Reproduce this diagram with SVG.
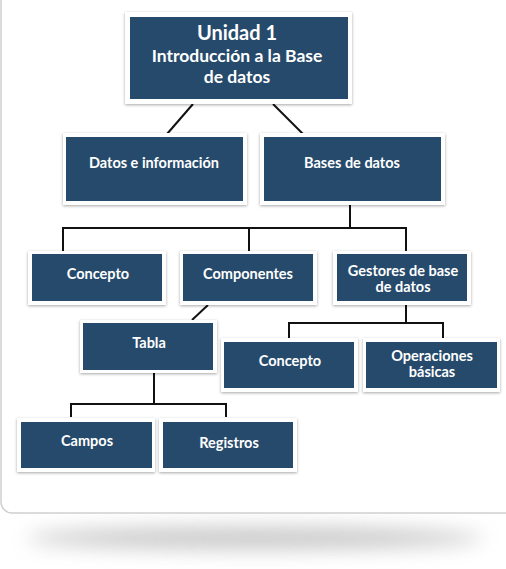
<svg xmlns="http://www.w3.org/2000/svg" width="506" height="569" viewBox="0 0 506 569">
<defs>
<filter id="sh" x="-10%" y="-20%" width="120%" height="140%">
<feGaussianBlur in="SourceAlpha" stdDeviation="1.5"/>
<feOffset dx="0" dy="1" result="b"/>
<feFlood flood-color="#000" flood-opacity="0.35"/>
<feComposite in2="b" operator="in"/>
<feMerge><feMergeNode/><feMergeNode in="SourceGraphic"/></feMerge>
</filter>
<filter id="bl" x="-20%" y="-200%" width="140%" height="500%">
<feGaussianBlur stdDeviation="10"/>
</filter>
<style>
.fr{fill:#fff;filter:url(#sh)}
.bx{fill:#264a6b}
.t{fill:#fff;font-family:Lato,"Open Sans",sans-serif;font-weight:bold;font-size:14.5px;text-anchor:middle}
.c{fill:none;stroke:#111;stroke-width:2}
</style>
</defs>
<ellipse cx="255" cy="538" rx="228" ry="11" fill="#9a9a9a" opacity="0.55" filter="url(#bl)"/>
<rect x="1" y="-20" width="515" height="533" rx="11" fill="#fff" stroke="#cfcfcf" stroke-width="1.5"/>
<g id="connectors">
<line class="c" x1="193" y1="104" x2="167" y2="134"/>
<line class="c" x1="273" y1="104" x2="303" y2="134"/>
<polyline class="c" points="350,205 350,228"/>
<polyline class="c" points="63,251 63,228 406,228 406,251"/>
<line class="c" x1="249" y1="228" x2="249" y2="251"/>
<line class="c" x1="208" y1="305" x2="192" y2="320"/>
<polyline class="c" points="406,305 406,323"/>
<polyline class="c" points="289,341 289,323 443,323 443,341"/>
<polyline class="c" points="154,373 154,404"/>
<polyline class="c" points="71,417 71,404 226,404 226,417"/>
</g>
<g id="n-unidad">
<rect class="fr" x="125" y="12" width="227" height="92"/>
<rect class="bx" x="130" y="17" width="218" height="82"/>
<text class="t" x="237" y="40" style="font-size:20px">Unidad 1</text>
<text class="t" x="237" y="62" style="font-size:17.5px">Introducción a la Base</text>
<text class="t" x="237" y="83" style="font-size:17.5px">de datos</text>
</g>
<g id="n-datos">
<rect class="fr" x="63" y="133" width="184" height="72"/>
<rect class="bx" x="66" y="137" width="177" height="64"/>
<text class="t" x="154" y="168">Datos e información</text>
</g>
<g id="n-bases">
<rect class="fr" x="260" y="133" width="185" height="72"/>
<rect class="bx" x="264" y="137" width="177" height="64"/>
<text class="t" x="352" y="168">Bases de datos</text>
</g>
<g id="n-concepto1">
<rect class="fr" x="28" y="251" width="138" height="54"/>
<rect class="bx" x="32" y="254" width="130" height="47"/>
<text class="t" x="98" y="279">Concepto</text>
</g>
<g id="n-componentes">
<rect class="fr" x="180" y="251" width="137" height="54"/>
<rect class="bx" x="183" y="254" width="130" height="47"/>
<text class="t" x="248" y="279">Componentes</text>
</g>
<g id="n-gestores">
<rect class="fr" x="333" y="251" width="138" height="54"/>
<rect class="bx" x="337" y="254" width="130" height="47"/>
<text class="t" x="403" y="276">Gestores de base</text>
<text class="t" x="403" y="292">de datos</text>
</g>
<g id="n-tabla">
<rect class="fr" x="80" y="320" width="137" height="53"/>
<rect class="bx" x="83" y="323" width="130" height="47"/>
<text class="t" x="149" y="348">Tabla</text>
</g>
<g id="n-concepto2">
<rect class="fr" x="221" y="338" width="137" height="54"/>
<rect class="bx" x="224" y="342" width="130" height="46"/>
<text class="t" x="290" y="366">Concepto</text>
</g>
<g id="n-operaciones">
<rect class="fr" x="363" y="338" width="137" height="54"/>
<rect class="bx" x="366" y="342" width="131" height="46"/>
<text class="t" x="432" y="361">Operaciones</text>
<text class="t" x="432" y="377">básicas</text>
</g>
<g id="n-campos">
<rect class="fr" x="17" y="418" width="138" height="54"/>
<rect class="bx" x="21" y="422" width="131" height="46"/>
<text class="t" x="87" y="446">Campos</text>
</g>
<g id="n-registros">
<rect class="fr" x="159" y="418" width="138" height="54"/>
<rect class="bx" x="163" y="422" width="130" height="46"/>
<text class="t" x="229" y="448">Registros</text>
</g>
</svg>
